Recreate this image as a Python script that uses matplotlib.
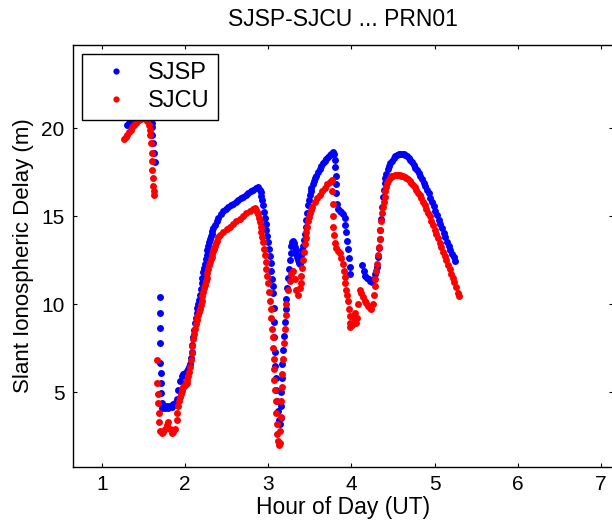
import numpy as np
import matplotlib
matplotlib.use("Agg")
from matplotlib import pyplot as plt

# (hour UT, slant delay m)
sjsp = [
    (1.31, 20.15), (1.33, 20.3), (1.35, 20.5), (1.37, 20.8), (1.39, 21.0), (1.42, 21.2), (1.45, 21.3),
    (1.48, 21.3), (1.51, 21.2), (1.54, 21.1), (1.57, 20.9), (1.59, 20.6), (1.60, 20.3), (1.605, 20.05),
    (1.61, 19.6), (1.617, 19.15), (1.625, 18.6), (1.635, 18.05),
    (1.695, 10.4), (1.698, 9.5), (1.700, 8.65), (1.703, 7.8), (1.706, 6.65), (1.709, 6.1), (1.712, 5.5),
    (1.716, 4.95), (1.72, 4.4), (1.725, 4.1), (1.74, 4.2), (1.76, 4.1), (1.78, 4.2), (1.80, 4.1),
    (1.82, 4.2), (1.84, 4.15), (1.86, 4.3), (1.88, 4.4), (1.90, 4.6), (1.92, 5.1), (1.94, 5.6),
    (1.96, 5.9), (1.98, 6.0), (2.00, 6.1), (2.02, 6.2), (2.04, 6.3), (2.05, 6.45), (2.06, 6.6),
    (2.07, 6.95), (2.08, 7.3), (2.09, 7.7), (2.10, 8.1), (2.11, 8.5), (2.12, 8.9), (2.13, 9.2),
    (2.14, 9.5), (2.15, 9.75), (2.16, 10.0), (2.17, 10.25), (2.18, 10.5), (2.19, 10.85), (2.20, 11.2),
    (2.21, 11.5), (2.22, 11.8), (2.23, 12.05), (2.24, 12.3), (2.25, 12.55), (2.26, 12.8), (2.27, 13.05),
    (2.28, 13.3), (2.29, 13.5), (2.30, 13.7), (2.31, 13.85), (2.32, 14.0), (2.33, 14.15), (2.34, 14.3),
    (2.36, 14.5), (2.38, 14.7), (2.40, 14.9), (2.43, 15.1), (2.46, 15.3), (2.49, 15.4), (2.52, 15.5),
    (2.55, 15.6), (2.58, 15.7), (2.61, 15.8), (2.64, 15.9), (2.67, 16.0), (2.70, 16.1), (2.73, 16.2),
    (2.76, 16.3), (2.79, 16.4), (2.82, 16.5), (2.85, 16.6), (2.88, 16.65), (2.90, 16.5), (2.91, 16.35),
    (2.92, 16.15), (2.93, 15.9), (2.94, 15.6), (2.95, 15.25), (2.96, 14.9), (2.97, 14.55), (2.98, 14.2),
    (2.99, 13.85), (3.00, 13.5), (3.01, 13.15), (3.02, 12.75), (3.03, 12.35), (3.04, 11.9), (3.05, 11.4),
    (3.055, 11.0), (3.06, 10.6), (3.065, 9.8), (3.07, 9.0), (3.075, 8.1), (3.08, 7.3), (3.085, 6.5),
    (3.09, 5.8), (3.10, 5.1), (3.11, 4.5), (3.12, 3.9), (3.13, 3.4), (3.14, 3.2), (3.15, 3.5),
    (3.155, 4.2), (3.16, 5.0), (3.165, 5.8), (3.17, 6.6), (3.18, 7.4), (3.19, 8.2), (3.20, 9.0),
    (3.21, 9.7), (3.22, 10.3), (3.23, 10.9), (3.24, 11.5), (3.25, 12.0), (3.26, 12.5), (3.27, 12.9),
    (3.28, 13.3), (3.29, 13.55), (3.30, 13.6), (3.31, 13.45), (3.32, 13.25), (3.33, 13.05), (3.34, 12.85),
    (3.35, 12.65), (3.36, 12.5), (3.37, 12.35), (3.38, 12.3), (3.39, 12.5), (3.40, 12.8), (3.41, 13.05),
    (3.42, 13.3), (3.43, 13.65), (3.44, 14.0), (3.45, 14.4), (3.46, 14.8), (3.47, 15.2), (3.48, 15.6),
    (3.49, 15.9), (3.50, 16.2), (3.51, 16.4), (3.52, 16.6), (3.535, 16.8), (3.55, 17.0), (3.565, 17.15),
    (3.58, 17.3), (3.60, 17.5), (3.62, 17.7), (3.64, 17.85), (3.66, 18.0), (3.68, 18.15), (3.70, 18.25),
    (3.72, 18.35), (3.74, 18.45), (3.76, 18.55), (3.78, 18.65), (3.79, 18.5), (3.80, 18.2), (3.805, 17.8),
    (3.81, 17.3), (3.815, 16.8), (3.82, 16.3), (3.83, 15.7), (3.84, 15.4), (3.86, 15.3), (3.88, 15.25),
    (3.90, 15.1), (3.92, 14.9), (3.93, 14.5), (3.94, 14.1), (3.95, 13.6), (3.96, 13.1), (3.97, 12.6),
    (3.98, 12.1), (3.985, 11.7),
    (4.13, 12.2), (4.15, 11.9), (4.17, 11.6), (4.19, 11.5), (4.21, 11.4), (4.23, 11.3), (4.25, 11.25),
    (4.27, 11.4), (4.29, 11.7), (4.30, 11.9), (4.31, 12.1), (4.32, 12.65), (4.33, 13.2), (4.34, 13.7),
    (4.35, 14.2), (4.36, 14.85), (4.37, 15.5), (4.38, 16.1), (4.39, 16.5), (4.40, 16.9), (4.41, 17.15),
    (4.42, 17.4), (4.435, 17.65), (4.45, 17.85), (4.47, 18.0), (4.49, 18.15), (4.51, 18.3), (4.53, 18.4),
    (4.55, 18.45), (4.57, 18.5), (4.59, 18.55), (4.61, 18.55), (4.63, 18.5), (4.65, 18.45), (4.67, 18.4),
    (4.69, 18.3), (4.71, 18.2), (4.73, 18.05), (4.75, 17.9), (4.77, 17.75), (4.79, 17.6), (4.81, 17.45),
    (4.83, 17.3), (4.85, 17.1), (4.87, 16.9), (4.89, 16.7), (4.91, 16.5), (4.93, 16.3), (4.95, 16.05),
    (4.97, 15.8), (4.99, 15.55), (5.01, 15.3), (5.03, 15.05), (5.05, 14.8), (5.07, 14.55), (5.09, 14.3),
    (5.11, 14.05), (5.13, 13.8), (5.15, 13.55), (5.17, 13.3), (5.19, 13.05), (5.21, 12.85), (5.23, 12.65),
    (5.25, 12.45),
]

sjcu = [
    (1.27, 19.4), (1.29, 19.5), (1.31, 19.6), (1.33, 19.75), (1.35, 19.9), (1.37, 20.05), (1.39, 20.2),
    (1.41, 20.3), (1.43, 20.4), (1.45, 20.45), (1.47, 20.5), (1.50, 20.55), (1.53, 20.5), (1.55, 20.4),
    (1.565, 20.2), (1.575, 19.9), (1.585, 19.6), (1.595, 19.15), (1.60, 18.6), (1.605, 18.1),
    (1.61, 17.6), (1.615, 17.15), (1.62, 16.7), (1.625, 16.4), (1.63, 16.2),
    (1.66, 6.8), (1.67, 5.5), (1.675, 4.9), (1.68, 4.4), (1.685, 3.8), (1.69, 3.3), (1.70, 2.8),
    (1.72, 2.7), (1.74, 2.75), (1.76, 2.9), (1.78, 3.1), (1.80, 3.3), (1.82, 2.9), (1.84, 2.7),
    (1.86, 2.75), (1.88, 2.9), (1.90, 3.4), (1.91, 3.8), (1.92, 4.2), (1.93, 4.5), (1.94, 4.7),
    (1.95, 4.9), (1.96, 5.05), (1.97, 5.2), (1.98, 5.3), (1.99, 5.35), (2.00, 5.4), (2.01, 5.45),
    (2.02, 5.5), (2.03, 5.7), (2.04, 5.9), (2.05, 6.15), (2.06, 6.4), (2.07, 6.8), (2.08, 7.2),
    (2.09, 7.6), (2.10, 8.0), (2.11, 8.3), (2.12, 8.6), (2.13, 8.85), (2.14, 9.1), (2.15, 9.25),
    (2.16, 9.4), (2.17, 9.55), (2.18, 9.7), (2.19, 9.95), (2.20, 10.2), (2.21, 10.45), (2.22, 10.7),
    (2.23, 10.9), (2.24, 11.1), (2.25, 11.3), (2.26, 11.5), (2.27, 11.75), (2.28, 12.0), (2.29, 12.2),
    (2.30, 12.4), (2.31, 12.55), (2.32, 12.7), (2.33, 12.85), (2.34, 13.0), (2.35, 13.15), (2.36, 13.3),
    (2.37, 13.45), (2.38, 13.6), (2.40, 13.8), (2.42, 13.95), (2.46, 14.1), (2.50, 14.25), (2.54, 14.4),
    (2.58, 14.55), (2.62, 14.7), (2.66, 14.85), (2.70, 15.0), (2.74, 15.15), (2.78, 15.3), (2.82, 15.4),
    (2.84, 15.45), (2.86, 15.35), (2.87, 15.25), (2.88, 15.1), (2.89, 14.9), (2.90, 14.65), (2.91, 14.4),
    (2.92, 14.1), (2.93, 13.8), (2.94, 13.5), (2.95, 13.15), (2.96, 12.8), (2.97, 12.4), (2.98, 12.0),
    (2.99, 11.6), (3.00, 11.2), (3.01, 10.7), (3.02, 10.2), (3.03, 9.7), (3.04, 9.2), (3.05, 8.6),
    (3.055, 8.1), (3.06, 7.5), (3.065, 6.9), (3.07, 6.3), (3.075, 5.7), (3.08, 5.1), (3.09, 4.5),
    (3.10, 3.8), (3.105, 3.2), (3.11, 2.6), (3.12, 2.2), (3.13, 2.0), (3.14, 2.1), (3.145, 2.8),
    (3.15, 3.6), (3.16, 4.5), (3.165, 5.3), (3.17, 6.0), (3.18, 6.9), (3.19, 7.8), (3.20, 8.6),
    (3.21, 9.4), (3.22, 10.0), (3.24, 10.8), (3.26, 11.3), (3.28, 11.7), (3.30, 11.9), (3.32, 11.4),
    (3.34, 10.8), (3.36, 10.5), (3.38, 10.9), (3.39, 11.2), (3.40, 11.6), (3.41, 12.05), (3.42, 12.5),
    (3.43, 12.95), (3.44, 13.4), (3.45, 13.75), (3.46, 14.1), (3.47, 14.4), (3.48, 14.7), (3.49, 14.95),
    (3.50, 15.15), (3.515, 15.35), (3.53, 15.5), (3.56, 15.8), (3.59, 16.0), (3.62, 16.2), (3.65, 16.4),
    (3.68, 16.6), (3.71, 16.8), (3.74, 16.95), (3.765, 17.05), (3.77, 16.4), (3.775, 15.7), (3.78, 15.0),
    (3.785, 14.4), (3.795, 13.9), (3.80, 13.45), (3.82, 13.2), (3.84, 13.0), (3.86, 12.9), (3.88, 12.6),
    (3.90, 12.3), (3.91, 11.9), (3.92, 11.55), (3.93, 11.2), (3.94, 10.8), (3.95, 10.5), (3.96, 10.2),
    (3.97, 9.7), (3.98, 9.3), (3.985, 8.9), (3.99, 8.7), (4.01, 8.8), (4.03, 9.2), (4.05, 9.5),
    (4.06, 8.9), (4.07, 9.2), (4.08, 10.0), (4.10, 10.8), (4.12, 10.6), (4.14, 10.4), (4.16, 10.2),
    (4.18, 10.05), (4.20, 9.9), (4.22, 9.8), (4.24, 9.7), (4.26, 10.0), (4.27, 10.5), (4.28, 11.0),
    (4.29, 11.4), (4.30, 11.85), (4.31, 12.3), (4.32, 12.8), (4.33, 13.25), (4.34, 13.7), (4.35, 14.2),
    (4.36, 14.7), (4.37, 15.15), (4.38, 15.5), (4.39, 15.8), (4.40, 16.1), (4.41, 16.4), (4.42, 16.65),
    (4.43, 16.85), (4.445, 17.0), (4.46, 17.15), (4.48, 17.25), (4.50, 17.3), (4.52, 17.35), (4.54, 17.35),
    (4.56, 17.35), (4.58, 17.35), (4.60, 17.3), (4.62, 17.28), (4.64, 17.22), (4.66, 17.17), (4.68, 17.1),
    (4.70, 17.0), (4.72, 16.9), (4.74, 16.78), (4.76, 16.63), (4.78, 16.48), (4.80, 16.33), (4.82, 16.18),
    (4.84, 16.0), (4.86, 15.8), (4.88, 15.6), (4.90, 15.4), (4.92, 15.2), (4.94, 14.98), (4.96, 14.73),
    (4.98, 14.48), (5.00, 14.23), (5.02, 13.98), (5.04, 13.73), (5.06, 13.48), (5.08, 13.23), (5.10, 12.98),
    (5.12, 12.73), (5.14, 12.48), (5.16, 12.23), (5.18, 11.98), (5.20, 11.73), (5.22, 11.48), (5.24, 11.23),
    (5.26, 10.95), (5.28, 10.65), (5.295, 10.45),
]

x_ticks = [1, 2, 3, 4, 5, 6, 7]
y_ticks = [5, 10, 15, 20]

plt.rcParams['font.family'] = ['Liberation Sans', 'DejaVu Sans']

fig = plt.figure(figsize=(6.12, 5.27), dpi=100)
ax = fig.add_axes([73 / 612, 60 / 527, 540 / 612, 422 / 527])

h1, d1 = np.array(sjsp).T
h2, d2 = np.array(sjcu).T
ax.plot(h1, d1, 'o', color='#0000ff', ms=5, mew=0, label='SJSP')
ax.plot(h2, d2, 'o', color='#ff0000', ms=5, mew=0, label='SJCU')

ax.set_xlim(0.655, 7.145)
ax.set_ylim(0.74, 24.72)
ax.set_xticks(x_ticks)
ax.set_yticks(y_ticks)
ax.tick_params(direction='in', length=3, width=0.8, top=True, right=True,
               labelsize=15, pad=6)
for s in ax.spines.values():
    s.set_linewidth(1.0)

ax.set_xlabel('Hour of Day (UT)', fontsize=16.5, labelpad=1)
ax.set_ylabel('Slant Ionospheric Delay (m)', fontsize=16, labelpad=5)
ax.set_title('SJSP-SJCU ... PRN01', fontsize=16.5, pad=14)

leg = ax.legend(loc='upper left', bbox_to_anchor=(0.016, 0.979), borderaxespad=0,
                fontsize=17, fancybox=False, edgecolor='black', framealpha=1,
                handlelength=2.2, handletextpad=0.25, borderpad=0.35, labelspacing=0.25,
                markerscale=0.9)
leg.get_frame().set_linewidth(1.0)

fig.savefig('out.png', dpi=100)
